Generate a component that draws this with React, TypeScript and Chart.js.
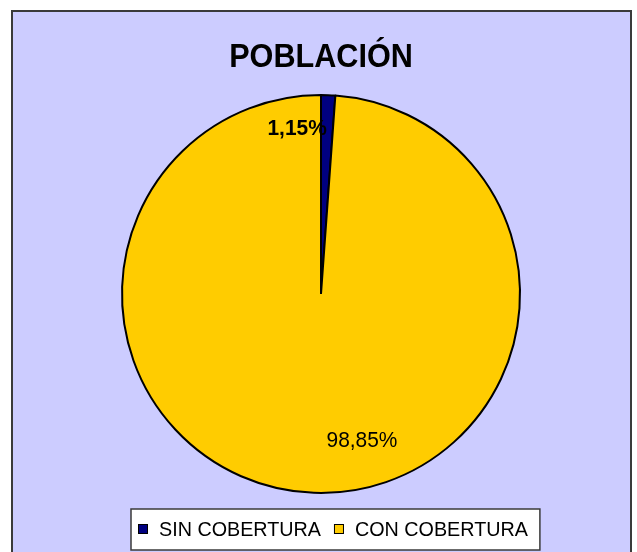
import React, { useEffect, useRef } from "react";
import { Chart, registerables } from "chart.js";

Chart.register(...registerables);

const TITLE = "POBLACIÓN";
const categories = ["SIN COBERTURA", "CON COBERTURA"];
const values = [1.15, 98.85];
const valueLabels = ["1,15%", "98,85%"];
const colors = ["#000080", "#FFCC00"];

const FONT = "'Liberation Sans', Arial, sans-serif";

function scaledText(ctx: CanvasRenderingContext2D, text: string, x: number, y: number, sx: number, align: CanvasTextAlign) {
  ctx.save();
  ctx.translate(x, y);
  ctx.scale(sx, 1);
  ctx.textAlign = align;
  ctx.fillText(text, 0, 0);
  ctx.restore();
}

const framePlugin = {
  id: "frame",
  beforeDraw(chart: any) {
    const ctx = chart.ctx;
    ctx.save();
    ctx.fillStyle = "#ffffff";
    ctx.fillRect(0, 0, chart.width, chart.height);
    ctx.fillStyle = "#CCCCFF";
    ctx.fillRect(12, 11, 619, 560);
    ctx.strokeStyle = "#3a3a3a";
    ctx.lineWidth = 2;
    ctx.strokeRect(12, 11, 619, 560);
    ctx.fillStyle = "#000000";
    ctx.font = `bold 34px ${FONT}`;
    ctx.textBaseline = "alphabetic";
    scaledText(ctx, TITLE, 321, 67, 0.9, "center");
    ctx.restore();
  },
  afterDraw(chart: any) {
    const ctx = chart.ctx;
    const meta = chart.getDatasetMeta(0);
    const arc0 = meta.data[0] as any;
    const cx = arc0.x;
    const cy = arc0.y;
    const r = arc0.outerRadius;
    const offs = [
      [-0.12, -0.798],
      [0.206, 0.771],
    ];
    const fonts = [`bold 22px ${FONT}`, `22px ${FONT}`];
    ctx.save();
    ctx.fillStyle = "#000000";
    ctx.textBaseline = "alphabetic";
    valueLabels.forEach((t, i) => {
      ctx.font = fonts[i];
      scaledText(ctx, t, cx + offs[i][0] * r, cy + offs[i][1] * r, 0.95, "center");
    });

    // legend
    const sx = 0.94;
    ctx.font = `21px ${FONT}`;
    const left = 131;
    const top = 509;
    const h = 41;
    const pad = 7;
    const sq = 10;
    const gap = 11;
    const itemGap = 13;
    let w = pad;
    const widths = categories.map((c) => ctx.measureText(c).width * sx);
    widths.forEach((tw, i) => {
      w += sq + gap + tw + (i < widths.length - 1 ? itemGap : 0);
    });
    w += 12;
    ctx.fillStyle = "#ffffff";
    ctx.fillRect(left, top, w, h);
    ctx.strokeStyle = "#3a3a3a";
    ctx.lineWidth = 1.5;
    ctx.strokeRect(left, top, w, h);
    let x = left + pad;
    categories.forEach((c, i) => {
      ctx.fillStyle = colors[i];
      ctx.fillRect(x, 524, sq, sq);
      ctx.strokeStyle = "#000000";
      ctx.lineWidth = 1;
      ctx.strokeRect(x + 0.5, 524.5, sq - 1, sq - 1);
      x += sq + gap;
      ctx.fillStyle = "#000000";
      scaledText(ctx, c, x, 536, sx, "left");
      x += widths[i] + itemGap;
    });
    ctx.restore();
  },
};

export default function App() {
  const ref = useRef<HTMLCanvasElement>(null);
  useEffect(() => {
    if (!ref.current) return;
    const chart = new Chart(ref.current, {
      type: "pie",
      data: {
        labels: categories,
        datasets: [
          {
            data: values,
            backgroundColor: colors,
            borderColor: "#000000",
            borderWidth: 2,
          },
        ],
      },
      options: {
        animation: false,
        responsive: false,
        devicePixelRatio: 1,
        layout: { padding: { left: 121, right: 116, top: 94, bottom: 58 } },
        plugins: {
          legend: { display: false },
          title: { display: false },
          tooltip: { enabled: false },
        },
      },
      plugins: [framePlugin],
    });
    return () => chart.destroy();
  }, []);
  return (
    <div style={{ position: "absolute", left: 0, top: 0, width: 637, height: 552 }}>
      <canvas ref={ref} width={637} height={552} style={{ display: "block" }} />
    </div>
  );
}
